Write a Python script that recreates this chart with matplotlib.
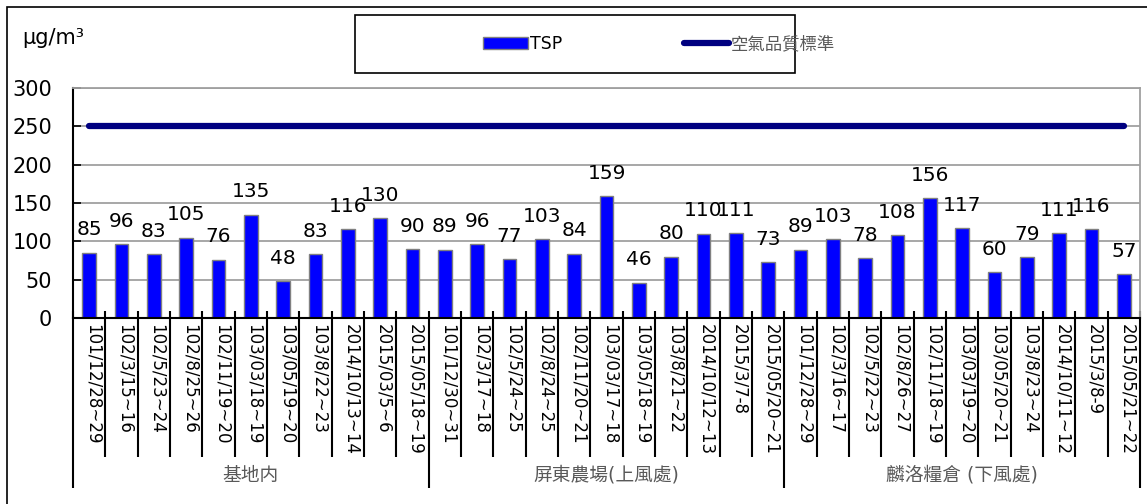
import numpy as np
import matplotlib
matplotlib.use("Agg")
import matplotlib.pyplot as plt
from matplotlib.patches import Rectangle, Patch
from matplotlib.lines import Line2D

plt.rcParams['font.family'] = ['DejaVu Sans', 'Noto Sans CJK TC']

# data
groups = ['基地内', '屏東農場(上風處)', '麟洛糧倉 (下風處)']
dates_base = ['101/12/28~29', '102/3/15~16', '102/5/23~24', '102/8/25~26', '102/11/19~20',
              '103/03/18~19', '103/05/19~20', '103/8/22~23', '2014/10/13~14', '2015/03/5~6',
              '2015/05/18~19']
dates_ping = ['101/12/30~31', '102/3/17~18', '102/5/24~25', '102/8/24~25', '102/11/20~21',
              '103/03/17~18', '103/05/18~19', '103/8/21~22', '2014/10/12~13', '2015/3/7-8',
              '2015/05/20~21']
dates_lin = ['101/12/28~29', '102/3/16~17', '102/5/22~23', '102/8/26~27', '102/11/18~19',
             '103/03/19~20', '103/05/20~21', '103/8/23~24', '2014/10/11~12', '2015/3/8-9',
             '2015/05/21~22']
tsp_base = [85, 96, 83, 105, 76, 135, 48, 83, 116, 130, 90]
tsp_ping = [89, 96, 77, 103, 84, 159, 46, 80, 110, 111, 73]
tsp_lin = [89, 103, 78, 108, 156, 117, 60, 79, 111, 116, 57]
standard = 250

labels = dates_base + dates_ping + dates_lin
values = tsp_base + tsp_ping + tsp_lin
group_sizes = [len(dates_base), len(dates_ping), len(dates_lin)]
n = len(values)
x = np.arange(n)

W, H = 1147, 504
fig = plt.figure(figsize=(W / 100, H / 100), dpi=100)
ax = fig.add_axes([73 / W, 1 - 318 / H, (1140 - 73) / W, 230 / H])

grid_c = '#A0A0A0'
ax.set_axisbelow(True)
ax.yaxis.grid(True, color=grid_c, lw=1.3)

ax.bar(x, values, width=0.43, color='#0000FF', edgecolor='#808080', lw=1, zorder=2)
ax.plot([x[0], x[-1]], [standard, standard], color='#000080', lw=4.5,
        solid_capstyle='round', zorder=3)

# value labels (some overlap in the original too)
for xi, v in zip(x, values):
    ax.annotate(str(v), (xi, v), xytext=(0, 12.5), textcoords='offset points',
                ha='center', va='baseline', fontsize=14.5, zorder=4)

ax.set_xlim(-0.5, n - 0.5)
ax.set_ylim(0, 300)
ax.set_yticks(np.arange(0, 301, 50))
ax.tick_params(axis='y', direction='in', length=6, width=1.2, labelsize=15, pad=15)
ax.set_xticks([])

for s in ['left', 'bottom']:
    ax.spines[s].set_color('black')
    ax.spines[s].set_linewidth(1.5)
for s in ['top', 'right']:
    ax.spines[s].set_color(grid_c)
    ax.spines[s].set_linewidth(1.3)

# category labels and separators
tr = ax.get_xaxis_transform()
for xi, lab in zip(x, labels):
    ax.text(xi + 0.1, -0.025, lab, transform=tr, rotation=270, ha='center', va='top',
            fontsize=12)

bounds = np.concatenate([[0], np.cumsum(group_sizes)]) - 0.5
cat_sep = [b for b in np.arange(n + 1) - 0.5 if b not in bounds]
ax.vlines(cat_sep, -0.604, 0.03, transform=tr, colors='black', lw=1.5, clip_on=False)
ax.vlines(bounds, -0.739, 0.03, transform=tr, colors='black', lw=1.5, clip_on=False)
for g, lo, hi in zip(groups, bounds[:-1], bounds[1:]):
    ax.text((lo + hi) / 2, -0.683, g, transform=tr, ha='center', va='center',
            fontsize=13.5, color='#595959')

# unit label
fig.text(22 / W, 1 - 38 / H, 'μg/m³', fontsize=15, va='center', ha='left')

# legend box
fig.add_artist(Rectangle((355 / W, 1 - 73 / H), 440 / W, 58 / H, transform=fig.transFigure,
                         fill=False, ec='black', lw=1.2))
handles = [Patch(facecolor='#0000FF', edgecolor='#808080', lw=1),
           Line2D([0], [0], color='#000080', lw=4.5, solid_capstyle='round')]
leg = fig.legend(handles, ['TSP', '空氣品質標準'], loc='center',
                 bbox_to_anchor=(659 / W, 1 - 44 / H), ncol=2, frameon=False,
                 fontsize=12.5, handlelength=2.6, handleheight=0.7, handletextpad=0.1,
                 columnspacing=7.0)
leg.get_texts()[1].set_color('#595959')

# outer frame
fig.add_artist(Rectangle((7.5 / W, -0.1), 1.2, 1.1 - 7.5 / H, transform=fig.transFigure,
                         fill=False, ec='black', lw=1.2))

fig.savefig('out.png', dpi=100)
